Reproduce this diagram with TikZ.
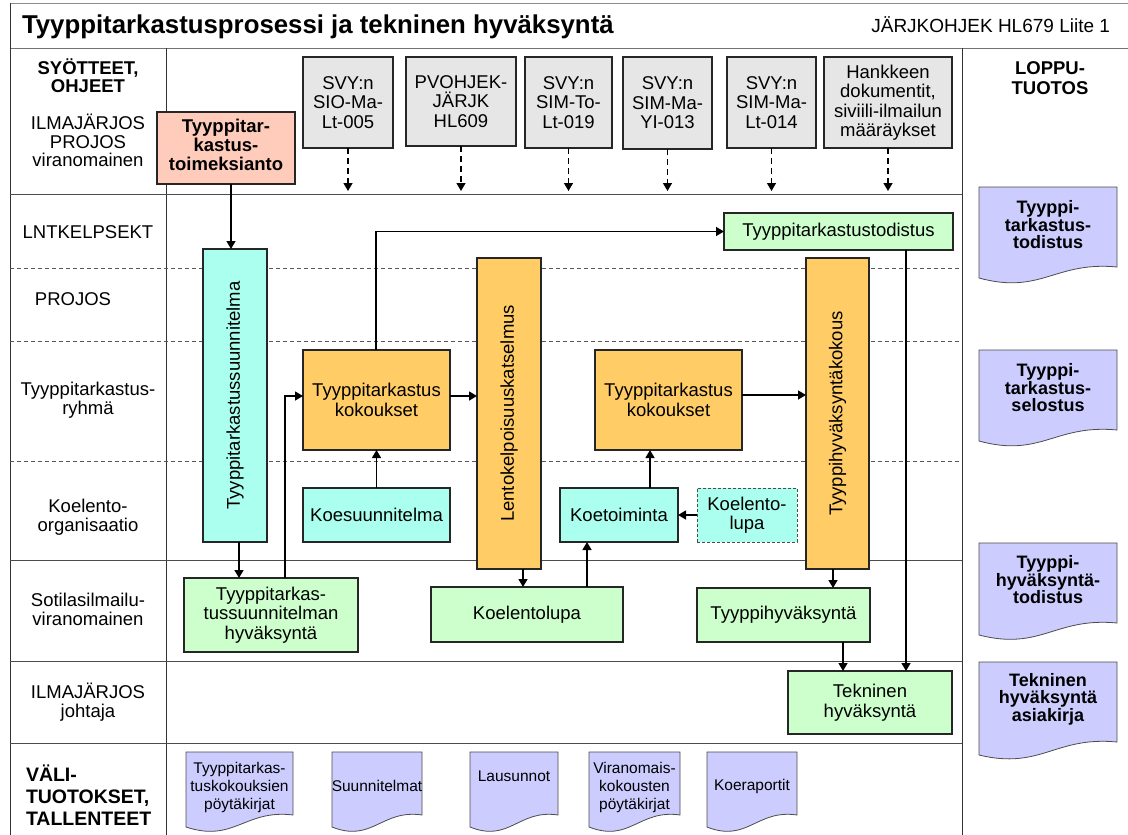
\documentclass[tikz,border=0pt]{standalone}
\usepackage{fontspec}
\setmainfont{Liberation Sans}
\usetikzlibrary{arrows.meta}
\definecolor{inputgray}{RGB}{230,230,230}
\definecolor{salmon}{RGB}{255,204,187}
\definecolor{aqua}{RGB}{170,255,238}
\definecolor{paleorange}{RGB}{255,204,102}
\definecolor{palegreen}{RGB}{204,255,204}
\definecolor{lavender}{RGB}{204,204,255}
\newcommand\fsz[2]{\fontsize{#1}{#2}\selectfont}
% document symbol: name, left x, right x, top y, right bottom y, left bottom y
\newcommand\docshape[6]{%
  \path[docline] (#2,#4) -- (#3,#4) -- (#3,#5)
    .. controls ({#2+0.55*(#3-#2)},{#5-6}) and ({#2+0.45*(#3-#2)},{#5+28}) .. (#2,#6) -- cycle;
  \coordinate (#1) at ({(#2+#3)/2},#4);
}
\begin{document}
\begin{tikzpicture}[x=1pt,y=-1pt,
  every node/.style={inner sep=0pt, outer sep=0pt},
  box/.style={draw=black!85, line width=1.4pt, align=center, font=\fsz{18.5}{19.5}},
  lbl/.style={align=center, font=\fsz{18.5}{18.8}},
  doctext/.style={align=center, font=\bfseries\fsz{18}{17.5}},
  smalldoc/.style={align=center, font=\fsz{15.5}{18}},
  arr/.style={draw=black, line width=1.4pt, -{Triangle[length=8pt,width=9pt]}},
  darr/.style={draw=black, line width=1.4pt, dash pattern=on 6pt off 4pt, -{Triangle[length=8pt,width=9pt]}},
  ln/.style={draw=black, line width=1.4pt},
  docline/.style={draw=black!70, line width=0.8pt, fill=lavender},
  rowsolid/.style={draw=black!70, line width=1pt},
  rowdash/.style={draw=black!65, line width=0.9pt, dash pattern=on 4pt off 3pt},
  colline/.style={draw=black!80, line width=1pt}
]
\useasboundingbox (0,0) rectangle (1128,835);
\fill[white] (0,0) rectangle (1128,835);

% frame and swimlane grid
\draw[draw=black!45, line width=1pt] (10,3) -- (1128,3);
\draw[draw=black!55, line width=1pt] (10,48) -- (1128,48);
\draw[colline] (10,3) -- (10,835);
\draw[colline] (166,48) -- (166,835);
\draw[colline] (962,48) -- (962,835);
\draw[rowsolid] (10,194) -- (962,194);
\draw[rowdash] (10,268) -- (962,268);
\draw[rowdash] (10,341) -- (962,341);
\draw[rowdash] (10,461) -- (962,461);
\draw[rowsolid] (10,560) -- (962,560);
\draw[rowsolid] (10,661) -- (962,661);
\draw[rowsolid] (10,743) -- (962,743);

% heading
\node[anchor=west, font=\bfseries\fsz{25.8}{26}] (title) at (22,27) {Tyyppitarkastusprosessi ja tekninen hyväksyntä};
\node[anchor=east, font=\fsz{19}{20}] (docref) at (1110,25) {JÄRJKOHJEK HL679 Liite 1};

% lane labels
\node[lbl, font=\bfseries\fsz{18.5}{17.5}] (lsyot) at (88,75.5) {SYÖTTEET,\\OHJEET};
\node[lbl, font=\fsz{18.5}{18.5}] (lilma) at (88,140.5) {ILMAJÄRJOS\\PROJOS\\viranomainen};
\node[lbl] (llnt) at (88,232) {LNTKELPSEKT};
\node[lbl] (lprojos) at (73,299) {PROJOS};
\node[lbl] (lryhma) at (88,400.5) {Tyyppitarkastus-\\ryhmä};
\node[lbl] (lkoel) at (88,517.5) {Koelento-\\organisaatio};
\node[lbl] (lsotil) at (88,609) {Sotilasilmailu-\\viranomainen};
\node[lbl] (ljoht) at (88,702.5) {ILMAJÄRJOS\\johtaja};
\node[anchor=west, align=left, font=\bfseries\fsz{19.5}{22}] (lvali) at (26,795) {VÄLI-\\TUOTOKSET,\\TALLENTEET};
\node[lbl, font=\bfseries\fsz{18.5}{20}] (lloppu) at (1050,78) {LOPPU-\\TUOTOS};

% inputs and guidance
\node[box, fill=inputgray, minimum width=90, minimum height=91] (in1) at (348,102.5) {SVY:n\\SIO-Ma-\\Lt-005};
\node[box, fill=inputgray, minimum width=110, minimum height=89] (in2) at (461,101.5) {PVOHJEK-\\JÄRJK\\HL609};
\node[box, fill=inputgray, minimum width=87, minimum height=91] (in3) at (568.5,102.5) {SVY:n\\SIM-To-\\Lt-019};
\node[box, fill=inputgray, minimum width=89, minimum height=92] (in4) at (667.5,103) {SVY:n\\SIM-Ma-\\YI-013};
\node[box, fill=inputgray, minimum width=89, minimum height=91] (in5) at (771.5,102.5) {SVY:n\\SIM-Ma-\\Lt-014};
\node[box, fill=inputgray, minimum width=128, minimum height=91] (in6) at (888,102.5) {Hankkeen\\dokumentit,\\siviili-ilmailun\\määräykset};
\foreach \n/\x in {1/348,2/461,3/568.5,4/667.5,5/771.5,6/888}{
  \coordinate (tip\n) at (\x,191);
  \draw[darr] (in\n.south) -- (tip\n);
}

% process steps
\node[box, fill=salmon, minimum width=138, minimum height=72, font=\bfseries\fsz{18.5}{18.5}] (toim) at (226,148) {\raisebox{5pt}{\begin{tabular}{@{}c@{}}Tyyppitar-\\kastus-\\toimeksianto\end{tabular}}};
\node[box, fill=aqua, minimum width=64, minimum height=293] (tsuun) at (235,395.5) {\rotatebox{90}{Tyyppitarkastussuunnitelma}};
\node[box, fill=palegreen, minimum width=174, minimum height=74] (tshyv) at (271,615) {Tyyppitarkas-\\tussuunnitelman\\hyväksyntä};
\node[box, fill=paleorange, minimum width=147, minimum height=100] (kok1) at (376.5,400) {Tyyppitarkastus\\kokoukset};
\node[box, fill=aqua, minimum width=147, minimum height=54] (koes) at (376.5,515) {Koesuunnitelma};
\node[box, fill=palegreen, minimum width=229, minimum height=37] (ttod) at (838.5,231.5) {Tyyppitarkastustodistus};
\node[box, fill=paleorange, minimum width=64, minimum height=311] (lento) at (509,413.5) {\rotatebox{90}{Lentokelpoisuuskatselmus}};
\node[box, fill=palegreen, minimum width=192, minimum height=55] (kolupa) at (527,614.5) {Koelentolupa};
\node[box, fill=aqua, minimum width=118, minimum height=54] (koet) at (619,515) {Koetoiminta};
\node[box, fill=aqua, draw=black!70, line width=0.9pt, dash pattern=on 3pt off 2pt, minimum width=100, minimum height=54] (klupa) at (747,515) {Koelento-\\lupa};
\node[box, fill=paleorange, minimum width=147, minimum height=100] (kok2) at (668.5,400) {Tyyppitarkastus\\kokoukset};
\node[box, fill=paleorange, minimum width=63, minimum height=311] (hyvk) at (837.5,413.5) {\rotatebox{90}{Tyyppihyväksyntäkokous}};
\node[box, fill=palegreen, minimum width=173, minimum height=54] (thyv) at (783.5,615) {Tyyppihyväksyntä};
\node[box, fill=palegreen, minimum width=164, minimum height=63] (tekn) at (870,702.5) {Tekninen\\hyväksyntä};

% flow connectors
\draw[arr] (toim.south -| 231,0) -- (tsuun.north -| 231,0);
\draw[arr] (tsuun.south -| 239,0) -- (tshyv.north -| 239,0);
\draw[arr] (tshyv.north -| 285,0) |- (kok1.west |- 0,396);
\draw[arr] (kok1.north -| 376,0) |- (ttod.west);
\draw[arr] (koes.north) -- (kok1.south);
\draw[arr] (kok1.east |- 0,396) -- (lento.west |- 0,396);
\draw[arr] (lento.south -| 523,0) -- (kolupa.north -| 523,0);
\draw[arr] (kolupa.north -| 587,0) -- (koet.south -| 587,0);
\draw[arr] (klupa.west) -- (koet.east);
\draw[arr] (koet.north -| 650,0) -- (kok2.south -| 650,0);
\draw[arr] (kok2.east |- 0,395) -- (hyvk.west |- 0,395);
\draw[arr] (hyvk.south -| 833,0) -- (thyv.north -| 833,0);
\draw[arr] (thyv.south -| 843,0) -- (tekn.north -| 843,0);
\draw[arr] (ttod.south -| 906,0) -- (tekn.north -| 906,0);

% final products
\docshape{d1}{979}{1117}{187}{267}{278}
\node[doctext] (d1t) at (1048,225) {Tyyppi-\\tarkastus-\\todistus};
\docshape{d2}{979}{1117}{350}{430}{441}
\node[doctext] (d2t) at (1048,388) {Tyyppi-\\tarkastus-\\selostus};
\docshape{d3}{979}{1117}{543}{623}{635}
\node[doctext] (d3t) at (1048,580) {Tyyppi-\\hyväksyntä-\\todistus};
\docshape{d4}{979}{1117}{662}{742}{755}
\node[doctext] (d4t) at (1048,699) {Tekninen\\hyväksyntä\\asiakirja};

% intermediate products and records
\docshape{b1}{186}{293}{752}{815}{827}
\node[smalldoc] (b1t) at (239.5,787) {Tyyppitarkas-\\tuskokouksien\\pöytäkirjat};
\docshape{b2}{332}{422}{752}{815}{827}
\node[smalldoc] (b2t) at (377,786) {Suunnitelmat};
\docshape{b3}{470}{558}{752}{815}{827}
\node[smalldoc] (b3t) at (514,776) {Lausunnot};
\docshape{b4}{589}{680}{752}{815}{827}
\node[smalldoc] (b4t) at (634.5,787) {Viranomais-\\kokousten\\pöytäkirjat};
\docshape{b5}{707}{797}{752}{815}{827}
\node[smalldoc] (b5t) at (752,786) {Koeraportit};
\end{tikzpicture}
\end{document}
